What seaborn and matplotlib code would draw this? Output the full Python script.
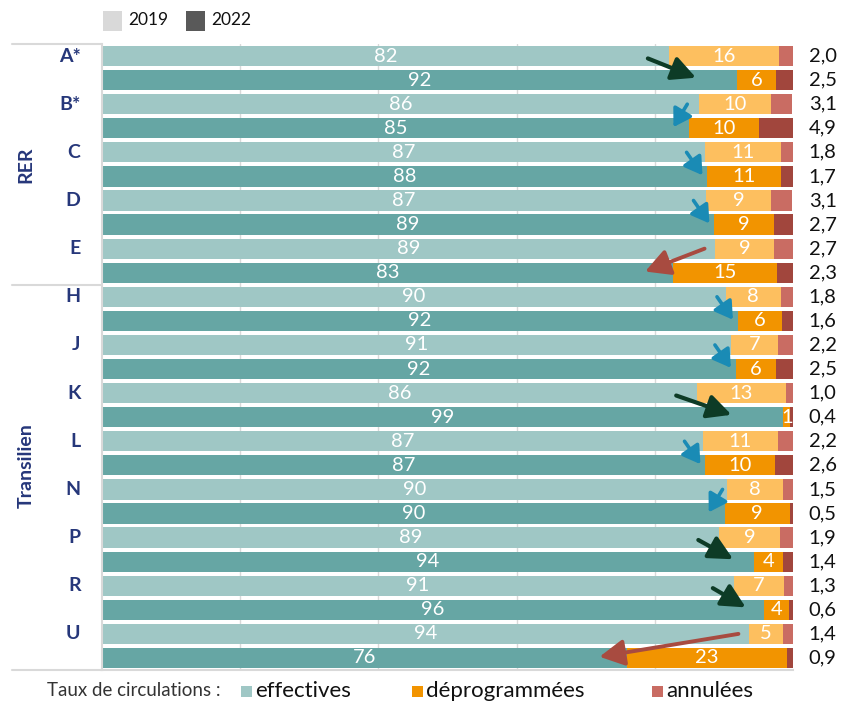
import numpy as np
import pandas as pd
import seaborn as sns
import matplotlib.pyplot as plt
from matplotlib.patches import Rectangle

sns.set_style("white")
plt.rcParams['font.family'] = ['Lato', 'DejaVu Sans']

lines = ["A*", "B*", "C", "D", "E", "H", "J", "K", "L", "N", "P", "R", "U"]
n_rer = 5
group_names = ["RER", "Transilien"]
years = ["2019", "2022"]

eff_2019 = [82.0, 86.4, 87.3, 87.4, 88.7, 90.3, 91.0, 86.1, 87.0, 90.4, 89.3, 91.4, 93.6]
dep_2019 = [16.0, 10.4, 10.9, 9.4, 8.6, 7.9, 6.8, 12.9, 10.8, 8.1, 8.8, 7.3, 5.0]
ann_2019 = [2.0, 3.1, 1.8, 3.1, 2.7, 1.8, 2.2, 1.0, 2.2, 1.5, 1.9, 1.3, 1.4]
eff_2022 = [91.9, 85.0, 87.6, 88.6, 82.6, 92.0, 91.7, 98.6, 87.3, 90.1, 94.4, 95.8, 76.0]
dep_2022 = [5.6, 10.1, 10.7, 8.7, 15.1, 6.4, 5.8, 1.0, 10.1, 9.4, 4.2, 3.6, 23.1]
ann_2022 = [2.5, 4.9, 1.7, 2.7, 2.3, 1.6, 2.5, 0.4, 2.6, 0.5, 1.4, 0.6, 0.9]

series_labels = ["effectives", "déprogrammées", "annulées"]
legend_title = "Taux de circulations :"

eff_pal = {"2019": "#9fc7c5", "2022": "#66a6a4"}
dep_pal = {"2019": "#fdbf5f", "2022": "#f29400"}
ann_pal = {"2019": "#c96c63", "2022": "#a1463d"}
year_cols = {"2019": "#d9d9d9", "2022": "#595959"}
navy = "#26377a"

rows = []
for i, ln in enumerate(lines):
    rows.append(dict(row=f"{ln} 2019", line=ln, year="2019",
                     eff=eff_2019[i], dep=dep_2019[i], ann=ann_2019[i]))
    rows.append(dict(row=f"{ln} 2022", line=ln, year="2022",
                     eff=eff_2022[i], dep=dep_2022[i], ann=ann_2022[i]))
df = pd.DataFrame(rows)
df["mid"] = df["eff"] + df["dep"]
df["total"] = df["mid"] + df["ann"]
order = list(df["row"])

W, H = 856, 702
fig = plt.figure(figsize=(W / 100, H / 100), dpi=100)
ax = fig.add_axes([102 / W, 1 - 670 / H, 691 / W, 626 / H])
ax.set_axisbelow(True)

for col, pal in [("total", ann_pal), ("mid", dep_pal), ("eff", eff_pal)]:
    sns.barplot(data=df, x=col, y="row", hue="year", order=order, palette=pal,
                dodge=False, width=0.84, saturation=1, errorbar=None,
                legend=False, linewidth=0, ax=ax)

ax.set_xlim(0, 100)
ax.set_ylim(len(order) - 0.5, -0.5)
ax.set_xticks([0, 20, 40, 60, 80, 100])
ax.set_xticklabels([])
ax.tick_params(axis="x", length=5, color="#d9d9d9", direction="out")
ax.set_yticks([])
ax.set_xlabel("")
ax.set_ylabel("")
for gx in [20, 40, 60, 80]:
    ax.axvline(gx, color="#d9d9d9", lw=1, zorder=0)
for s in ["top", "right"]:
    ax.spines[s].set_visible(False)
for s in ["left", "bottom"]:
    ax.spines[s].set_color("#d9d9d9")
    ax.spines[s].set_linewidth(1.5)

ytr = ax.get_yaxis_transform()
for yy in [-0.5, 2 * n_rer - 0.5, len(order) - 0.5]:
    ax.plot([-0.13, 0], [yy, yy], color="#d9d9d9", lw=1.5, transform=ytr, clip_on=False)

# group labels
ax.text(-0.11, n_rer - 0.5, group_names[0], rotation=90, ha="center", va="center",
        fontsize=14, fontweight="bold", color=navy, transform=ytr)
ax.text(-0.11, 17.0, group_names[1], rotation=90, ha="center", va="center",
        fontsize=14, fontweight="bold", color=navy, transform=ytr)

# line labels
for i, ln in enumerate(lines):
    ax.text(-0.031, 2 * i, ln, ha="right", va="center", fontsize=14,
            fontweight="bold", color=navy, transform=ytr)

# value labels
for j, r in df.iterrows():
    ax.text(r["eff"] / 2, j, f"{r['eff']:.0f}", ha="center", va="center",
            color="white", fontsize=14.5)
    ax.text(r["eff"] + r["dep"] / 2, j, f"{r['dep']:.0f}", ha="center", va="center",
            color="white", fontsize=14.5)
    ax.text(104.3, j, f"{r['ann']:.1f}".replace(".", ","), ha="center", va="center",
            color="#111111", fontsize=14.5, clip_on=False)

# arrows (trend between 2019 and 2022 effective rates)
for i in range(len(lines)):
    e19, e22 = eff_2019[i], eff_2022[i]
    d = e22 - e19
    y19, y22 = 2 * i, 2 * i + 1
    if d >= 3:
        c, lw, ms, hl = "#0d3b26", 3.0, 18, 0.8
        x0, x1 = e19 - 3, e19 + 0.4 * d
        ya, yb = y19 + 0.1, y22 - 0.1
    elif d <= -3:
        c, lw, ms, hl = "#a84b40", 2.8, 20, 0.75
        x0, x1 = e19 - 1.5, e22 - 4
        ya, yb = y19, y22 - 0.05
    else:
        c, lw, ms, hl = "#1a8bb5", 2.6, 16, 0.65
        if d >= 0:
            x0, x1 = e22 - 3.0, e22 - 0.7
        else:
            x0, x1 = e22 - 0.3, e22 - 2.3
        ya, yb = y19 + 0.0, y22 - 0.05
    ax.annotate("", xy=(x1, yb), xytext=(x0, ya),
                arrowprops=dict(arrowstyle=f"-|>,head_length={hl},head_width=0.4",
                                color=c, lw=lw, mutation_scale=ms,
                                shrinkA=0, shrinkB=0), zorder=5)

# top legend (years)
for x_sq, x_txt, yr in [(103, 128, years[0]), (186, 211, years[1])]:
    fig.add_artist(Rectangle((x_sq / W, 1 - 31 / H), 19 / W, 20 / H,
                             transform=fig.transFigure, fc=year_cols[yr], ec="none"))
    fig.text(x_txt / W, 1 - 20 / H, yr, fontsize=12.5, ha="left", va="center",
             color="#111111")

# bottom legend (series)
ly = 1 - 691 / H
fig.text(47 / W, ly, legend_title, fontsize=13.5, ha="left", va="center",
         color="#333333")
for x_sq, col, lab in [(241, eff_pal["2019"], series_labels[0]),
                       (412, dep_pal["2022"], series_labels[1]),
                       (652, ann_pal["2019"], series_labels[2])]:
    fig.add_artist(Rectangle((x_sq / W, 1 - 697 / H), 11 / W, 11 / H,
                             transform=fig.transFigure, fc=col, ec="none"))
    fig.text((x_sq + 14) / W, ly, lab, fontsize=16, ha="left", va="center",
             color="#111111")

fig.savefig("out.png", dpi=100)
